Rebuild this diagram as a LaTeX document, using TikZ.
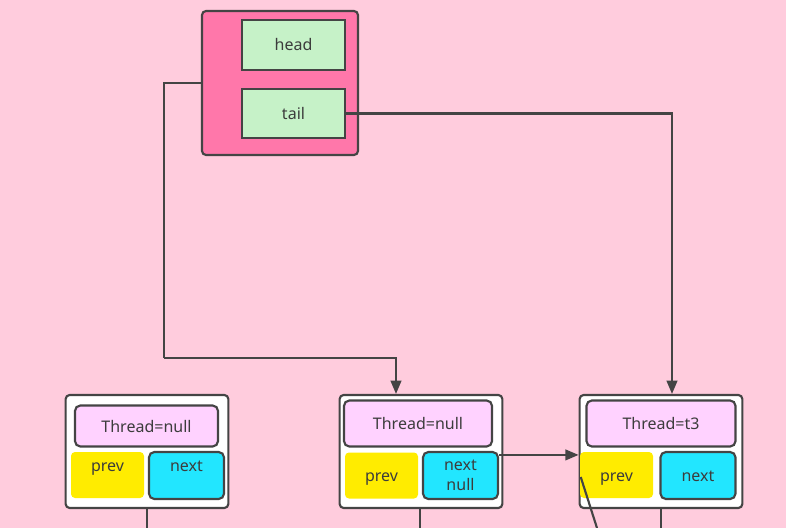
\documentclass[tikz,border=0pt]{standalone}
\usepackage{fontspec}
\setmainfont{Noto Sans}
\usepackage{xcolor}
\usepackage{tikz}
\usetikzlibrary{arrows.meta,calc}
\definecolor{bgpink}{RGB}{255,204,221}
\definecolor{holdpink}{RGB}{255,119,170}
\definecolor{fieldgreen}{RGB}{198,242,200}
\definecolor{threadpink}{RGB}{255,210,255}
\definecolor{prevyellow}{RGB}{255,236,0}
\definecolor{nextcyan}{RGB}{34,230,255}
\definecolor{edgegray}{RGB}{68,68,68}
\definecolor{txtgray}{RGB}{60,60,60}

\tikzset{
  every node/.style={font=\fontsize{12}{15}\selectfont, text=txtgray, inner sep=0pt},
  holder/.style={draw=edgegray, fill=holdpink, line width=1.6pt, rounded corners=3pt, minimum width=117pt, minimum height=108pt},
  field/.style={draw=edgegray, fill=fieldgreen, line width=1.6pt, minimum width=77.25pt, minimum height=37pt},
  qnode/.style={draw=edgegray, fill=white, line width=1.6pt, rounded corners=3pt, minimum width=122pt, minimum height=84.75pt},
  threadbox/.style={draw=edgegray, fill=threadpink, line width=1.6pt, rounded corners=4pt, minimum height=34.5pt},
  prevbox/.style={fill=prevyellow, rounded corners=3pt, minimum width=54.75pt, minimum height=34.5pt},
  nextbox/.style={draw=edgegray, fill=nextcyan, line width=1.6pt, rounded corners=4pt, minimum width=56.25pt, minimum height=35.25pt},
  toptext/.style={text height=9pt, text depth=15pt},
  lowtext/.style={text height=12pt, text depth=3pt},
  conn/.style={draw=edgegray, line width=1.6pt, -{Triangle[length=10pt,width=8pt]}},
  link/.style={draw=edgegray, line width=1.6pt}
}

\begin{document}
\begin{tikzpicture}[x=0.75pt,y=0.75pt,yscale=-1,xscale=1]
\fill[bgpink] (0,0) rectangle (786,528);
\useasboundingbox (0,0) rectangle (786,528);

% Head / tail holder
\node[holder] (holder) at (280,83) {};
\node[field] (head) at (293.5,45) {head};
\node[field] (tail) at (293.5,113.5) {tail};

% Queue nodes
\node[qnode] (n1) at (147,451.5) {};
\node[threadbox, minimum width=107.25pt, minimum height=30.75pt] (thr1) at (146.5,426) {Thread=null};
\node[prevbox, toptext] (prev1) at (107.5,475) {prev};
\node[nextbox, toptext] (next1) at (186.5,475.5) {next};

\node[qnode] (n2) at (421,451.5) {};
\node[threadbox, minimum width=111pt] (thr2) at (418,423.5) {Thread=null};
\node[prevbox, lowtext] (prev2) at (381.5,475.5) {prev};
\node[nextbox, align=center] (next2) at (460.5,475.5) {next\\null};

\node[qnode] (n3) at (661,451.5) {};
\node[threadbox, minimum width=111.75pt] (thr3) at (661,423.5) {Thread=t3};
\node[prevbox, lowtext] (prev3) at (616.5,475) {prev};
\node[nextbox, lowtext] (next3) at (698,475.5) {next};

% Connectors
\coordinate (bend) at (164,358);
\draw[link] (holder.west) -| (bend);
\draw[conn] (bend) -| ($(n2.north)+(-25,0)$);
\draw[conn] (tail.east) -| ($(n3.north)+(11,0)$);
\coordinate (out2) at ($(next2.north east)+(0,4)$);
\draw[conn] (out2) -- (out2 -| n3.west);

% Links running off the bottom
\coordinate (b1) at (147,528);
\coordinate (b2) at (420,528);
\coordinate (b3) at (661,528);
\coordinate (d3) at (597,528);
\draw[link] (n1.south) -- (b1);
\draw[link] ($(n2.south)+(-1,0)$) -- (b2);
\draw[link] (n3.south) -- (b3);
\draw[link] (d3) -- ($(prev3.west)+(1,2)$);

\end{tikzpicture}
\end{document}
